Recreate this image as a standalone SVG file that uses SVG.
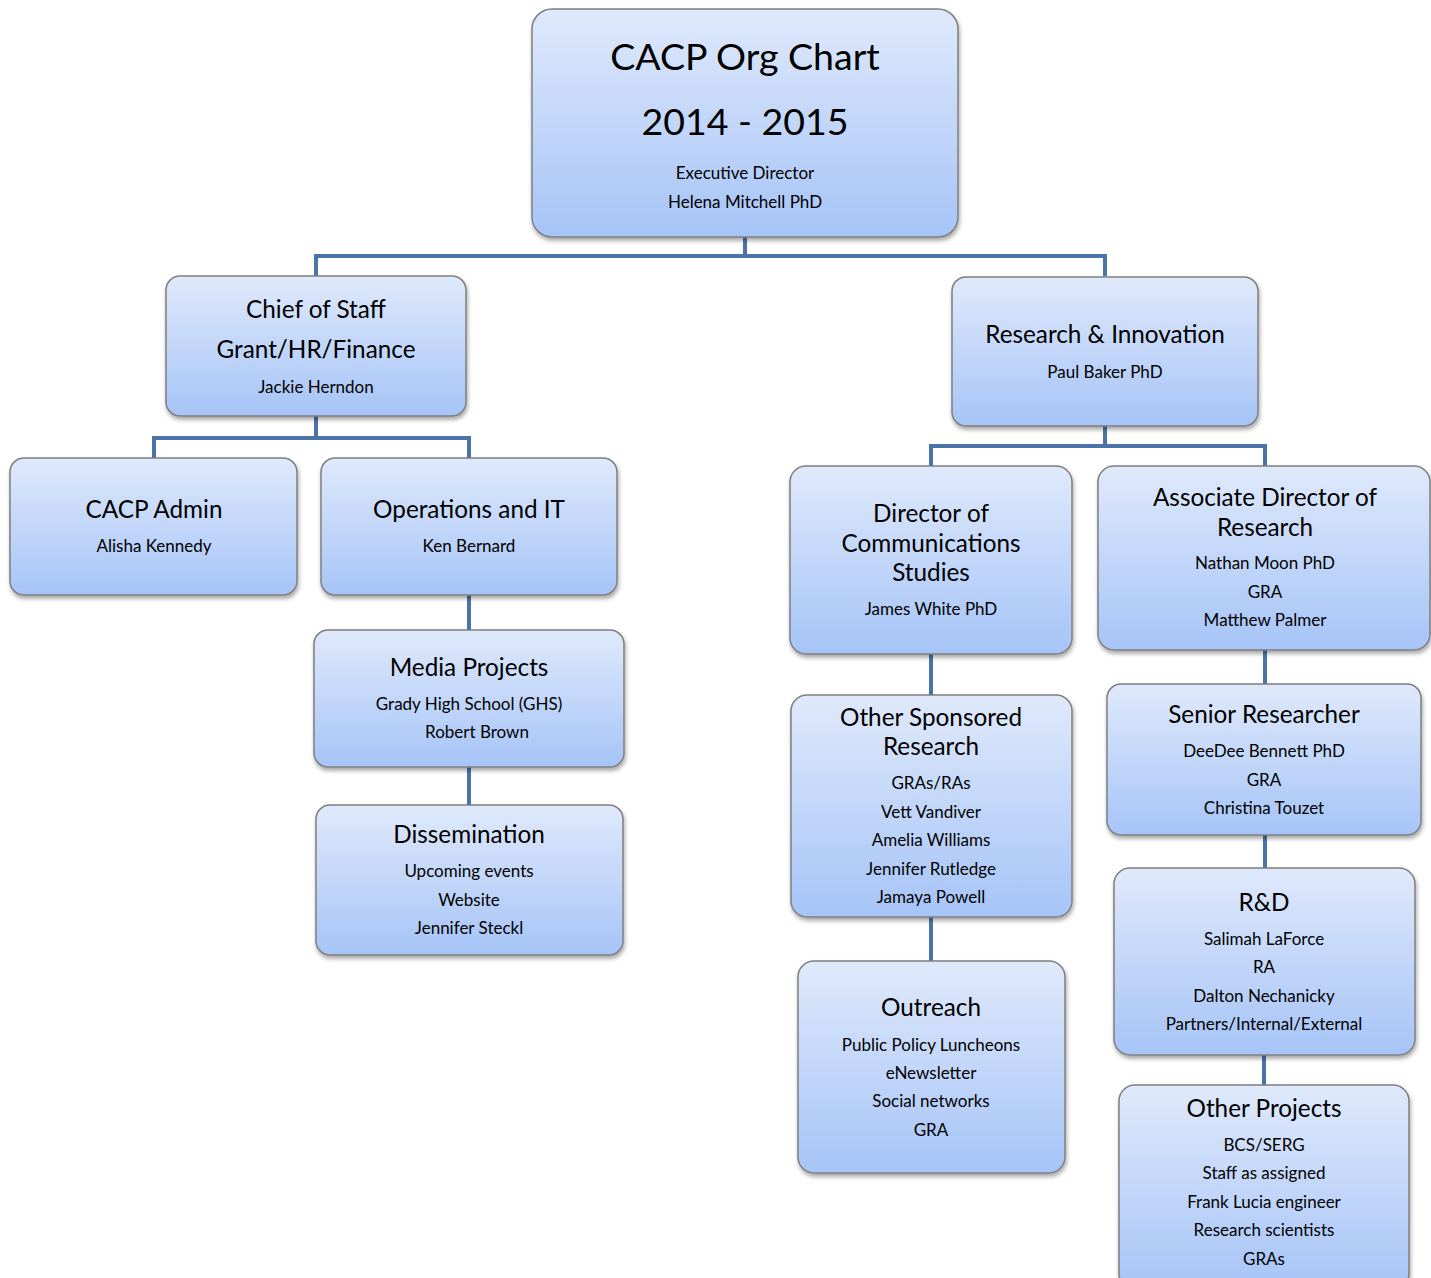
<svg xmlns="http://www.w3.org/2000/svg" width="1431" height="1278" viewBox="0 0 1431 1278">
<defs>
<linearGradient id="g" x1="0" y1="0" x2="0" y2="1">
<stop offset="0" stop-color="#dfe9fb"/>
<stop offset="1" stop-color="#a6c4f7"/>
</linearGradient>
<filter id="sh" x="-10%" y="-10%" width="120%" height="130%">
<feDropShadow dx="1" dy="3" stdDeviation="2" flood-color="#000" flood-opacity="0.35"/>
</filter>
</defs>
<style>
.box{fill:url(#g);stroke:#7f7f7f;stroke-width:1.5;filter:url(#sh)}
text{font-family:Lato,"Liberation Sans",sans-serif;fill:#000;text-anchor:middle}
.t{font-size:24.3px}
.s{font-size:17px}
.big{font-size:37.5px}
.con{fill:none;stroke:#4a74a9;stroke-width:4}
</style>
<g id="connectors">
<path class="con" d="M745 237V256M316 276V256H1105V276"/>
<path class="con" d="M316 416V438M154 458V438H469V458"/>
<path class="con" d="M469 595V630M469 767V805"/>
<path class="con" d="M1105 426V446M931 466V446H1265V466"/>
<path class="con" d="M931 654V695M931 917V961"/>
<path class="con" d="M1265 650V684M1265 835V868M1264 1055V1085"/>
</g>
<g id="root">
<rect class="box" x="532" y="9" width="426" height="228" rx="20"/>
<text class="big" x="745" y="70">CACP Org Chart</text>
<text class="big" x="745" y="135">2014 - 2015</text>
<text class="s" x="745" y="179">Executive Director</text>
<text class="s" x="745" y="208">Helena Mitchell PhD</text>
</g>
<g id="chief">
<rect class="box" x="166" y="276" width="300" height="140" rx="14"/>
<text class="t" x="316" y="318">Chief of Staff</text>
<text class="t" x="316" y="358">Grant/HR/Finance</text>
<text class="s" x="316" y="393">Jackie Herndon</text>
</g>
<g id="admin">
<rect class="box" x="10" y="458" width="287" height="137" rx="14"/>
<text class="t" x="154" y="518">CACP Admin</text>
<text class="s" x="154" y="552">Alisha Kennedy</text>
</g>
<g id="ops">
<rect class="box" x="321" y="458" width="296" height="137" rx="14"/>
<text class="t" x="469" y="518">Operations and IT</text>
<text class="s" x="469" y="552">Ken Bernard</text>
</g>
<g id="media">
<rect class="box" x="314" y="630" width="310" height="137" rx="14"/>
<text class="t" x="469" y="676">Media Projects</text>
<text class="s" x="469" y="710">Grady High School (GHS)</text>
<text class="s" x="477" y="738">Robert Brown</text>
</g>
<g id="dissemination">
<rect class="box" x="316" y="805" width="307" height="150" rx="14"/>
<text class="t" x="469" y="843">Dissemination</text>
<text class="s" x="469" y="877">Upcoming events</text>
<text class="s" x="469" y="906">Website</text>
<text class="s" x="469" y="934">Jennifer Steckl</text>
</g>
<g id="research">
<rect class="box" x="952" y="277" width="306" height="149" rx="14"/>
<text class="t" x="1105" y="343">Research &amp; Innovation</text>
<text class="s" x="1105" y="378">Paul Baker PhD</text>
</g>
<g id="dircomm">
<rect class="box" x="790" y="466" width="282" height="188" rx="16"/>
<text class="t" x="931" y="522">Director of</text>
<text class="t" x="931" y="552">Communications</text>
<text class="t" x="931" y="581">Studies</text>
<text class="s" x="931" y="615">James White PhD</text>
</g>
<g id="assocdir">
<rect class="box" x="1098" y="466" width="332" height="184" rx="16"/>
<text class="t" x="1265" y="506">Associate Director of</text>
<text class="t" x="1265" y="536">Research</text>
<text class="s" x="1265" y="569">Nathan Moon PhD</text>
<text class="s" x="1265" y="598">GRA</text>
<text class="s" x="1265" y="626">Matthew Palmer</text>
</g>
<g id="othersponsored">
<rect class="box" x="791" y="695" width="281" height="222" rx="16"/>
<text class="t" x="931" y="726">Other Sponsored</text>
<text class="t" x="931" y="755">Research</text>
<text class="s" x="931" y="789">GRAs/RAs</text>
<text class="s" x="931" y="818">Vett Vandiver</text>
<text class="s" x="931" y="846">Amelia Williams</text>
<text class="s" x="931" y="875">Jennifer Rutledge</text>
<text class="s" x="931" y="903">Jamaya Powell</text>
</g>
<g id="outreach">
<rect class="box" x="798" y="961" width="267" height="212" rx="16"/>
<text class="t" x="931" y="1016">Outreach</text>
<text class="s" x="931" y="1051">Public Policy Luncheons</text>
<text class="s" x="931" y="1079">eNewsletter</text>
<text class="s" x="931" y="1107">Social networks</text>
<text class="s" x="931" y="1136">GRA</text>
</g>
<g id="senior">
<rect class="box" x="1107" y="684" width="314" height="151" rx="14"/>
<text class="t" x="1264" y="723">Senior Researcher</text>
<text class="s" x="1264" y="757">DeeDee Bennett PhD</text>
<text class="s" x="1264" y="786">GRA</text>
<text class="s" x="1264" y="814">Christina Touzet</text>
</g>
<g id="rnd">
<rect class="box" x="1114" y="868" width="301" height="187" rx="16"/>
<text class="t" x="1264" y="911">R&amp;D</text>
<text class="s" x="1264" y="945">Salimah LaForce</text>
<text class="s" x="1264" y="973">RA</text>
<text class="s" x="1264" y="1002">Dalton Nechanicky</text>
<text class="s" x="1264" y="1030">Partners/Internal/External</text>
</g>
<g id="otherprojects">
<rect class="box" x="1119" y="1085" width="290" height="205" rx="16"/>
<text class="t" x="1264" y="1117">Other Projects</text>
<text class="s" x="1264" y="1151">BCS/SERG</text>
<text class="s" x="1264" y="1179">Staff as assigned</text>
<text class="s" x="1264" y="1208">Frank Lucia engineer</text>
<text class="s" x="1264" y="1236">Research scientists</text>
<text class="s" x="1264" y="1265">GRAs</text>
</g>
</svg>
